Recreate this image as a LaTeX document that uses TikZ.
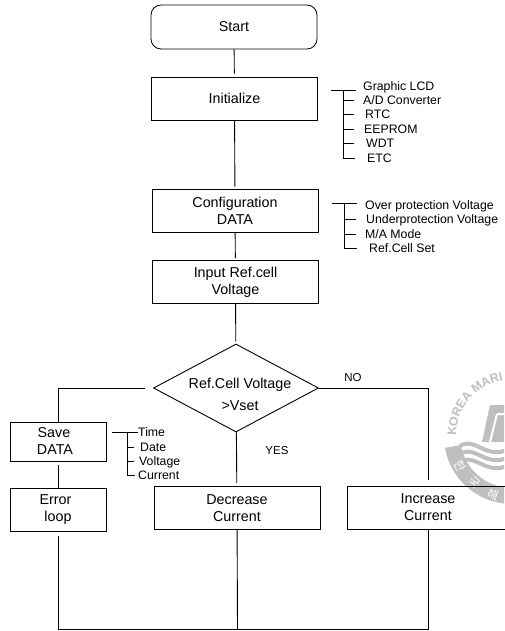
\documentclass[tikz,border=0pt]{standalone}
\usepackage{fontspec}
\setmainfont{Liberation Sans}
\newfontfamily\krfont{Noto Sans CJK KR}
\usetikzlibrary{calc,shapes.geometric,decorations.text}
\colorlet{sealgrey}{black!25}
\tikzset{
  stepbox/.style={draw,thick,minimum width=#1,minimum height=43pt,inner sep=0pt,align=center,font=\fontsize{14.3}{17}\selectfont},
  stepbox/.default=166pt,
  ann/.style={anchor=west,inner sep=0pt,text height=9pt,text depth=0pt,font=\fontsize{12.3}{14}\selectfont},
  branchlabel/.style={inner sep=0pt,font=\fontsize{11.5}{13}\selectfont},
  lnk/.style={line width=0.9pt},
  bus/.style={line width=0.8pt}
}
\begin{document}
\begin{tikzpicture}[x=1pt,y=-1pt]
\useasboundingbox (0,0) rectangle (504,631);
% seal behind the boxes
\begin{scope}
\clip (0,0) rectangle (504,631);
\fill[sealgrey] (512,436) ++(170:68) arc[start angle=170,end angle=40,radius=68] -- ++(220:16) arc[start angle=40,end angle=170,radius=52] -- cycle;
\fill[sealgrey] (490,405) -- (510,405) -- (510,442) -- (482,442) -- cycle;
\draw[white,line width=2pt] (497,414) -- (510,414) (497,414) -- (490,442);
\foreach \dy in {0,8,16}
  \draw[sealgrey,line width=4pt] (460,446+\dy) .. controls (475,436+\dy) and (488,462+\dy) .. (510,448+\dy);
\path[decorate,decoration={text along path,text align=left,raise=0pt,
  text={|\fontsize{12.3}{14}\bfseries\color{sealgrey}|KOREA MARI}}]
  (512,436) ++(180:56) arc[start angle=180,end angle=300,radius=56];
\foreach \gl/\ang/\rad in {한/150/60,국/129/60,해/108/62}
  \node[text=white,rotate=90-\ang,inner sep=0pt,font=\krfont\fontsize{12}{12}\selectfont] at ($(512,436)+(\ang:\rad)$) {\gl};
\end{scope}
% main flow
\node[stepbox,minimum height=44pt,rounded corners=10pt] (start) at (234,27) {Start};
\node[stepbox] (init) at (234.5,98.5) {Initialize};
\node[stepbox] (config) at (235,210.5) {Configuration\\DATA};
\node[stepbox] (input) at (235.5,282) {Input Ref.cell\\Voltage};
\node[draw,line width=0.9pt,diamond,aspect=1.875,minimum width=165pt,minimum height=88pt,inner sep=0pt] (test) at (236,388) {};
\node[inner sep=0pt,align=center,font=\fontsize{14.3}{22}\selectfont] (testtext) at (240,394) {Ref.Cell Voltage\\>Vset};
\node[stepbox=96pt,minimum height=39pt] (save) at (58,441.5) {Save\hspace*{8pt}\\DATA\hspace*{6pt}};
\node[stepbox=96pt] (error) at (58,509.5) {Error\hspace*{5pt}\\loop};
\node[stepbox] (dec) at (237,508) {Decrease\\Current};
\node[stepbox=162pt] (inc) at (428,507.5) {Increase\\Current};
\coordinate (join) at (237.5,629);
\draw[lnk,shorten >=3pt] (start) -- (init);
\draw[lnk,shorten >=2pt] (init) -- (config);
\draw[lnk,shorten >=2pt] (config) -- (input);
\draw[lnk,shorten >=2pt] (input) -- (test);
\draw[lnk,shorten >=3pt] (test) -- (dec);
\draw[lnk,shorten <=8pt] (test.west) -| (save.north);
\draw[lnk,shorten >=6pt] (test.east) -| (inc.north);
\draw[lnk,shorten <=4pt] (save) -- (error);
\draw[lnk,shorten <=5pt] (error.south) |- (join);
\draw[lnk] (inc.south) |- (join);
\draw[lnk] (dec) -- (join);
\node[branchlabel] (no) at (353,378) {NO};
\node[branchlabel] (yes) at (277,451) {YES};
% item lists
\node[ann] (lcd) at (363,86) {Graphic LCD};
\node[ann] (adc) at (363,100) {A/D Converter};
\node[ann] (rtc) at (365,114) {RTC};
\node[ann] (eeprom) at (364,129) {EEPROM};
\node[ann] (wdt) at (366,143) {WDT};
\node[ann] (etc) at (367,158) {ETC};
\coordinate (initbus) at (343,90);
\draw[bus] ([xshift=13pt]init.east |- initbus) -- ++(25,0);
\draw[bus] (initbus) -- (initbus |- etc) -- ++(12,0);
\foreach \item in {adc,rtc,eeprom,wdt}
  \draw[bus] (initbus |- \item) -- ++(11,0);
\node[ann] (over) at (365,205) {Over protection Voltage};
\node[ann] (under) at (366,219) {Underprotection Voltage};
\node[ann] (mode) at (365,234) {M/A Mode};
\node[ann] (refset) at (369,248) {Ref.Cell Set};
\coordinate (configbus) at (344,203);
\draw[bus] ([xshift=14pt]config.east |- configbus) -- ++(25,0);
\draw[bus] (configbus) -- (configbus |- refset) -- ++(13,0);
\foreach \item in {under,mode}
  \draw[bus] (configbus |- \item) -- ++(12,0);
\node[ann] (time) at (138,432) {Time};
\node[ann] (date) at (140,447) {Date};
\node[ann] (volt) at (139,461) {Voltage};
\node[ann] (curr) at (138,475) {Current};
\coordinate (savebus) at (127,432);
\draw[bus] ([xshift=6pt]save.east |- savebus) -- (time.west);
\draw[bus] (savebus) -- (savebus |- curr) -- ++(8,0);
\foreach \item in {date,volt}
  \draw[bus] (savebus |- \item) -- ++(7,0);
\end{tikzpicture}
\end{document}
